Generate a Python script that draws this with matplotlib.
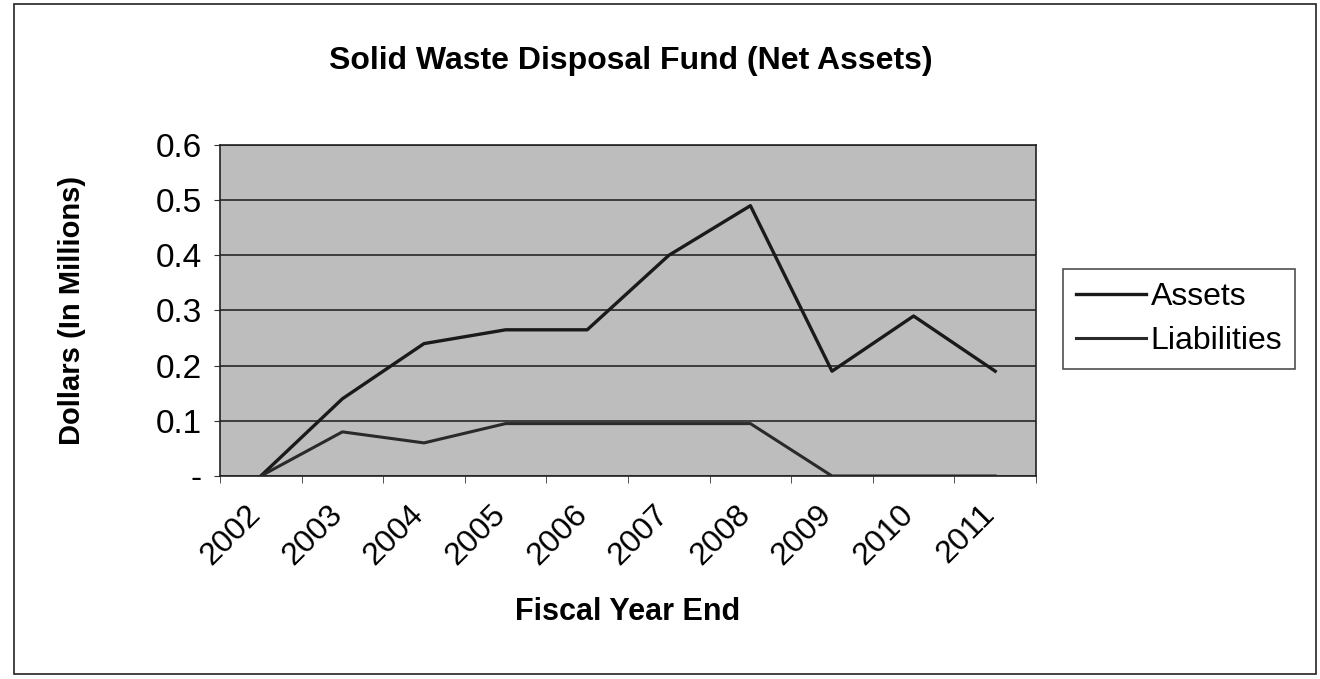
import numpy as np
import matplotlib
matplotlib.use("Agg")
import matplotlib.pyplot as plt
from matplotlib.patches import Rectangle
from matplotlib.ticker import FixedLocator
from matplotlib.transforms import ScaledTranslation

plt.rcParams['font.family'] = ['Liberation Sans', 'DejaVu Sans']

years = ['2002', '2003', '2004', '2005', '2006', '2007', '2008', '2009', '2010', '2011']
assets = [0.0, 0.14, 0.24, 0.265, 0.265, 0.40, 0.49, 0.19, 0.29, 0.19]
liabilities = [0.0, 0.08, 0.06, 0.095, 0.095, 0.095, 0.095, 0.0, 0.0, 0.0]
y_ticks = [0, 0.1, 0.2, 0.3, 0.4, 0.5, 0.6]
y_labels = ['-', '0.1', '0.2', '0.3', '0.4', '0.5', '0.6']

fig = plt.figure(figsize=(13.2, 6.79), dpi=100)
W, H = 1320, 679

# outer chart frame
fig.patches.append(Rectangle((14 / W, 1 - 674 / H), (1316 - 14) / W, (674 - 4) / H,
                             transform=fig.transFigure, fill=False,
                             edgecolor='#222222', linewidth=1.2))

ax = fig.add_axes([220 / W, 1 - 476 / H, (1036 - 220) / W, (476 - 145) / H])
ax.set_facecolor('#bdbdbd')

x = np.arange(len(years))
ax.plot(x, assets, color='#1a1a1a', linewidth=2.4, label='Assets')
ax.plot(x, liabilities, color='#2a2a2a', linewidth=2.2, label='Liabilities')

ax.set_xlim(-0.5, len(years) - 0.5)
ax.set_ylim(0, 0.6)
ax.set_yticks(y_ticks)
ax.set_yticklabels(y_labels, fontsize=24)
ax.yaxis.grid(True, color='#1a1a1a', linewidth=1.1)
ax.set_axisbelow(True)

# labels at category centres, tick marks at category boundaries
ax.set_xticks(x)
ax.set_xticklabels(years, fontsize=23, rotation=45, ha='right')
ax.tick_params(axis='x', which='major', length=0, pad=17)
ax.xaxis.set_minor_locator(FixedLocator(np.arange(-0.5, len(years), 1.0)))
ax.tick_params(axis='x', which='minor', length=5, color='#333333')
ax.tick_params(axis='y', length=4, pad=9, color='#333333')
shift = ScaledTranslation(6 / 100, 0, fig.dpi_scale_trans)
for lbl in ax.get_xticklabels():
    lbl.set_transform(lbl.get_transform() + shift)

for s in ax.spines.values():
    s.set_color('#222222')
    s.set_linewidth(1.2)

ax.set_xlabel('Fiscal Year End', fontsize=22, fontweight='bold')
ax.xaxis.set_label_coords(0.5, (476 - 612) / (476 - 145), transform=ax.transAxes)
ax.xaxis.label.set_va('center')
ax.set_ylabel('Dollars (In Millions)', fontsize=21, fontweight='bold')
ax.yaxis.set_label_coords((72 - 220) / (1036 - 220), 0.5, transform=ax.transAxes)
ax.yaxis.label.set_va('center')
fig.text(631 / W, 1 - 61 / H, 'Solid Waste Disposal Fund (Net Assets)',
         fontsize=23, fontweight='bold', ha='center', va='center')

leg = fig.legend(loc='upper left', bbox_to_anchor=(1063 / W, 1 - 269 / H),
                 fontsize=23, frameon=True, fancybox=False, handlelength=2.2,
                 handletextpad=0.15, borderpad=0.4, labelspacing=0.45,
                 borderaxespad=0)
leg.get_frame().set_edgecolor('#222222')
leg.get_frame().set_linewidth(1.2)

fig.savefig('out.png', dpi=100)
